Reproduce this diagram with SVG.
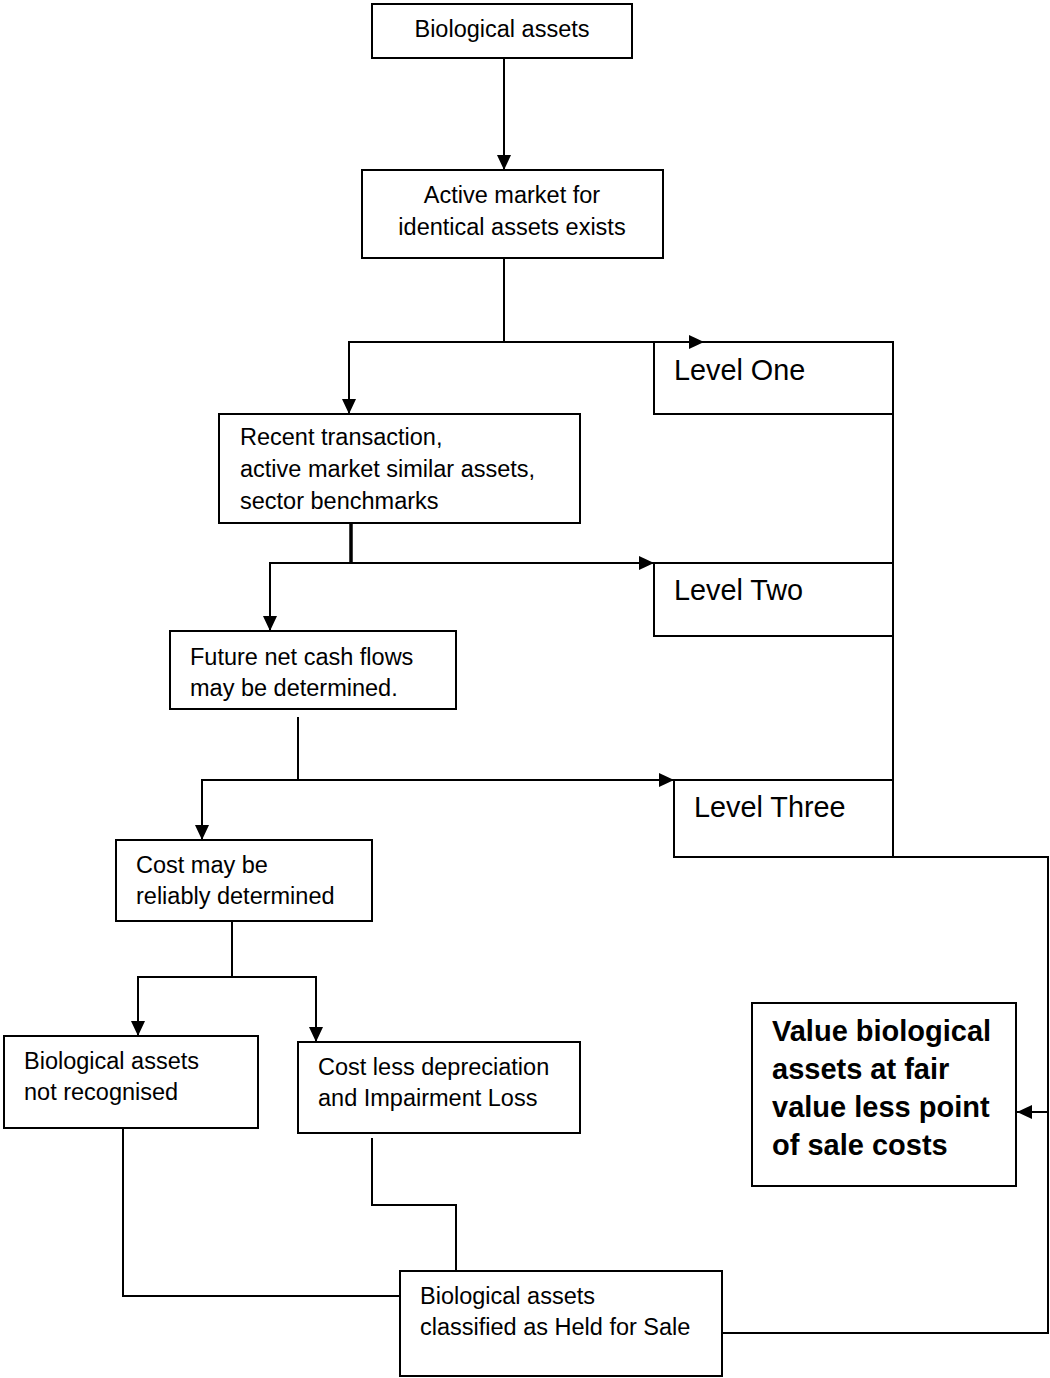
<svg xmlns="http://www.w3.org/2000/svg" width="1050" height="1378" viewBox="0 0 1050 1378">
<style>
.box{fill:#fff;stroke:#000;stroke-width:2}
.t{font-family:"Liberation Sans",Arial,sans-serif;font-size:23.5px;fill:#000}
.c{text-anchor:middle}
.lv{font-family:"Liberation Sans",Arial,sans-serif;font-size:28.8px;fill:#000}
.b{font-family:"Liberation Sans",Arial,sans-serif;font-size:29px;font-weight:bold;fill:#000}
.ln{fill:none;stroke:#000;stroke-width:2}
.thick{stroke-width:3.5}
.arr{marker-end:url(#ah)}
</style>
<defs>
<marker id="ah" markerUnits="userSpaceOnUse" markerWidth="15" markerHeight="14" refX="15" refY="7" orient="auto">
<path d="M0,0 L15,7 L0,14 z" fill="#000"/>
</marker>
</defs>
<rect width="1050" height="1378" fill="#fff"/>
<g id="n-bio">
<rect class="box" x="372" y="4" width="260" height="54"/>
<text class="t c" x="502" y="37">Biological assets</text>
</g>
<g id="n-active">
<rect class="box" x="362" y="170" width="301" height="88"/>
<text class="t c" x="512" y="203">Active market for</text>
<text class="t c" x="512" y="235">identical assets exists</text>
</g>
<g id="n-level1">
<rect class="box" x="654" y="342" width="239" height="72"/>
<text class="lv" x="674" y="380">Level One</text>
</g>
<g id="n-recent">
<rect class="box" x="219" y="414" width="361" height="109"/>
<text class="t" x="240" y="445">Recent transaction,</text>
<text class="t" x="240" y="477">active market similar assets,</text>
<text class="t" x="240" y="509">sector benchmarks</text>
</g>
<g id="n-level2">
<rect class="box" x="654" y="563" width="239" height="73"/>
<text class="lv" x="674" y="600">Level Two</text>
</g>
<g id="n-future">
<rect class="box" x="170" y="631" width="286" height="78"/>
<text class="t" x="190" y="665">Future net cash flows</text>
<text class="t" x="190" y="696">may be determined.</text>
</g>
<g id="n-level3">
<rect class="box" x="674" y="780" width="219" height="77"/>
<text class="lv" x="694" y="817">Level Three</text>
</g>
<g id="n-cost">
<rect class="box" x="116" y="840" width="256" height="81"/>
<text class="t" x="136" y="873">Cost may be</text>
<text class="t" x="136" y="904">reliably determined</text>
</g>
<g id="n-notrec">
<rect class="box" x="4" y="1036" width="254" height="92"/>
<text class="t" x="24" y="1069">Biological assets</text>
<text class="t" x="24" y="1100">not recognised</text>
</g>
<g id="n-costless">
<rect class="box" x="298" y="1042" width="282" height="91"/>
<text class="t" x="318" y="1075">Cost less depreciation</text>
<text class="t" x="318" y="1106">and Impairment Loss</text>
</g>
<g id="n-held">
<rect class="box" x="400" y="1271" width="322" height="105"/>
<text class="t" x="420" y="1304">Biological assets</text>
<text class="t" x="420" y="1335">classified as Held for Sale</text>
</g>
<g id="n-value">
<rect class="box" x="752" y="1003" width="264" height="183"/>
<text class="b" x="772" y="1041">Value biological</text>
<text class="b" x="772" y="1079">assets at fair</text>
<text class="b" x="772" y="1117">value less point</text>
<text class="b" x="772" y="1155">of sale costs</text>
</g>
<g id="connectors">
<path class="ln arr" d="M504,58 V170"/>
<path class="ln arr" d="M504,258 V342 H704"/>
<path class="ln arr" d="M504,342 H349 V414"/>
<path class="ln thick" d="M351,523 V563"/>
<path class="ln arr" d="M351,563 H654"/>
<path class="ln arr" d="M351,563 H270 V631"/>
<path class="ln arr" d="M298,717 V780 H674"/>
<path class="ln arr" d="M298,780 H202 V840"/>
<path class="ln arr" d="M232,921 V977 H138 V1036"/>
<path class="ln arr" d="M232,977 H316 V1042"/>
<path class="ln" d="M123,1128 V1296 H400"/>
<path class="ln" d="M372,1138 V1205 H456 V1271"/>
<path class="ln" d="M893,342 V857"/>
<path class="ln" d="M722,1333 H1048 V857 H893"/>
<path class="ln arr" d="M1048,1112 H1017"/>
</g>
</svg>
